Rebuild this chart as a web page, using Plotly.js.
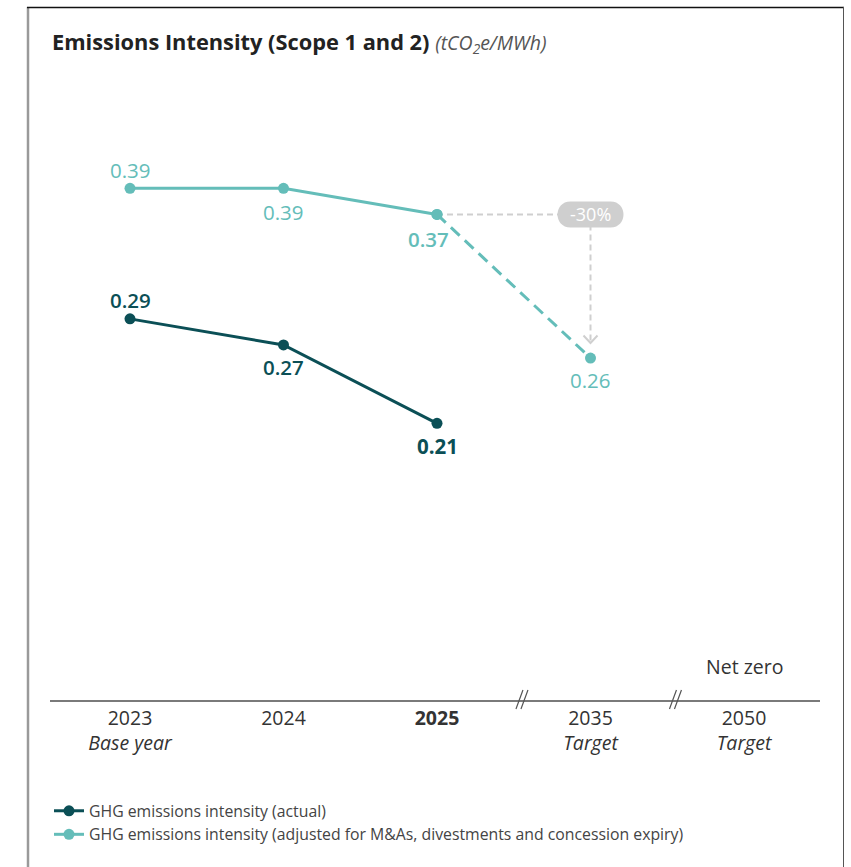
<!DOCTYPE html>
<html>
<head>
<meta charset="utf-8">
<script src="https://cdn.plot.ly/plotly-3.0.1.min.js"></script>
<style>html,body{margin:0;padding:0;background:#fff;}#chart{width:851px;height:867px;}</style>
</head>
<body>
<div id="chart"></div>
<script>
// ---- data ----
const years = ['2023', '2024', '2025', '2035', '2050'];
const yearNotes = ['Base year', '', '', 'Target', 'Target'];
const actualYears = ['2023', '2024', '2025'];
const actualValues = [0.29, 0.27, 0.21];
const adjustedYears = ['2023', '2024', '2025'];
const adjustedValues = [0.39, 0.39, 0.37];
const targetYears = ['2025', '2035'];
const targetValues = [0.37, 0.26];
const reductionLabel = '-30%';
const netZeroLabel = 'Net zero';
const actualName = 'GHG emissions intensity (actual)';
const adjustedName = 'GHG emissions intensity (adjusted for M&As, divestments and concession expiry)';

// ---- styles ----
const DARK = '#0b4f56';
const LIGHT = '#64bdb9';
const GREY = '#cfcfcf';
const FONT = 'Open Sans, Noto Sans, sans-serif';
const idx = y => years.indexOf(y);

// layout geometry
const L = 50, R = 31, T = 80, B = 167, W = 851, H = 867;
const PW = W - L - R, PH = H - T - B;
const X0 = 130, DX = 153.5; // px of first category, px spacing
const xRange = [(L - X0) / DX, (L + PW - X0) / DX];
const PXU = 1305.6; // px per unit
const yBottom = 0.39 - (700 - 188.3) / PXU;
const yRange = [yBottom, yBottom + PH / PXU];
const px2paperX = px => (px - L) / PW;
const py2paperY = py => (T + PH - py) / PH;
const pxToUnits = p => p / PXU;

const traces = [
  // grey guide line
  {x: [idx(targetYears[0]), idx(targetYears[1])], y: [targetValues[0], targetValues[0]],
   mode: 'lines', line: {color: GREY, width: 2, dash: '6px,4px'}, showlegend: false, hoverinfo: 'skip'},
  // dashed target path
  {x: targetYears.map(idx), y: targetValues, mode: 'lines+markers',
   line: {color: LIGHT, width: 3, dash: '12px,7px'}, marker: {color: LIGHT, size: 11},
   showlegend: false, hoverinfo: 'skip'},
  {x: actualYears.map(idx), y: actualValues, mode: 'lines+markers', name: actualName,
   line: {color: DARK, width: 3}, marker: {color: DARK, size: 11}},
  {x: adjustedYears.map(idx), y: adjustedValues, mode: 'lines+markers', name: adjustedName,
   line: {color: LIGHT, width: 3}, marker: {color: LIGHT, size: 11}}
];

// data labels
const annotations = [];
function addLabel(year, v, color, dx, dy, weight) {
  annotations.push({x: idx(year), y: v, xref: 'x', yref: 'y', text: v.toFixed(2), showarrow: false,
    xshift: dx, yshift: dy, font: {family: FONT, size: 20.5, color: color, weight: weight}});
}
addLabel(adjustedYears[0], adjustedValues[0], LIGHT, 0, 18, 400);
addLabel(adjustedYears[1], adjustedValues[1], LIGHT, 0, -24, 400);
addLabel(adjustedYears[2], adjustedValues[2], LIGHT, -9, -25, 600);
addLabel(targetYears[1], targetValues[1], LIGHT, 0, -22, 400);
addLabel(actualYears[0], actualValues[0], DARK, 0, 19, 600);
addLabel(actualYears[1], actualValues[1], DARK, 0, -22, 600);
addLabel(actualYears[2], actualValues[2], DARK, 0, -23, 700);

annotations.push({x: idx(targetYears[1]), y: targetValues[0], xref: 'x', yref: 'y', text: reductionLabel,
  showarrow: false, font: {family: FONT, size: 18, color: '#ffffff'}});
annotations.push({x: idx('2050'), y: 0, xref: 'x', yref: 'paper', yanchor: 'bottom', yshift: 18,
  text: netZeroLabel, showarrow: false, font: {family: FONT, size: 19.5, color: '#333333'}});

const tickText = years.map((y, i) => {
  const main = y === '2025' ? '<b>' + y + '</b>' : y;
  return yearNotes[i] ? main + '<br><i>' + yearNotes[i] + '</i>' : main;
});

const shapes = [
  // frame
  {type: 'line', xref: 'paper', yref: 'paper', x0: px2paperX(28), x1: px2paperX(28), y0: py2paperY(7), y1: py2paperY(870), line: {color: '#9a9a9a', width: 2.5}},
  {type: 'line', xref: 'paper', yref: 'paper', x0: px2paperX(27), x1: px2paperX(844), y0: py2paperY(7.5), y1: py2paperY(7.5), line: {color: '#111111', width: 1.5}},
  {type: 'line', xref: 'paper', yref: 'paper', x0: px2paperX(843.5), x1: px2paperX(843.5), y0: py2paperY(7), y1: py2paperY(870), line: {color: '#555555', width: 1}},
  // vertical grey dashed guide
  {type: 'line', xref: 'x', yref: 'y', x0: idx(targetYears[1]), x1: idx(targetYears[1]),
   y0: targetValues[0], y1: targetValues[1] + pxToUnits(16), line: {color: GREY, width: 2, dash: '6px,4px'}},
  // chevron
  {type: 'path', xref: 'x', yref: 'y', xsizemode: 'pixel', ysizemode: 'pixel',
   xanchor: idx(targetYears[1]), yanchor: targetValues[1], path: 'M-7,22.5 L0,15 L7,22.5',
   line: {color: GREY, width: 2}},
  // pill
  {type: 'path', xref: 'x', yref: 'y', xsizemode: 'pixel', ysizemode: 'pixel',
   xanchor: idx(targetYears[1]), yanchor: targetValues[0],
   path: 'M-20,-13 L20,-13 C37.3,-13 37.3,13 20,13 L-20,13 C-37.3,13 -37.3,-13 -20,-13 Z',
   fillcolor: GREY, line: {width: 0}},
  // axis breaks
  ...[2.56, 3.56].map(xb => ({type: 'path', xref: 'x', yref: 'paper', xsizemode: 'pixel', ysizemode: 'pixel',
   xanchor: xb, yanchor: 0, path: 'M-7,-9 L0,10 M-2,-9 L5,10', line: {color: '#555555', width: 1.2}}))
];

const layout = {
  width: W, height: H,
  margin: {l: L, r: R, t: T, b: B},
  paper_bgcolor: '#ffffff', plot_bgcolor: '#ffffff',
  font: {family: FONT, color: '#333333'},
  title: {
    text: '<b>Emissions Intensity (Scope 1 and 2)</b> <span style="font-size:19.5px;color:#555"><i>(tCO<sub>2</sub>e/MWh)</i></span>',
    x: 52 / W, xanchor: 'left', xref: 'container',
    y: 1 - 42 / H, yanchor: 'middle', yref: 'container',
    font: {family: FONT, size: 21.8, color: '#222222'}
  },
  xaxis: {range: xRange, tickvals: years.map((y, i) => i), ticktext: tickText,
    showgrid: false, zeroline: false, showline: true, linecolor: '#7a7a7a', linewidth: 1.5,
    ticks: '', ticklabelstandoff: 0, tickfont: {family: FONT, size: 19.5, color: '#333333'}, fixedrange: true},
  yaxis: {range: yRange, visible: false, showgrid: false, zeroline: false, fixedrange: true},
  showlegend: true,
  legend: {x: px2paperX(49), xanchor: 'left', y: py2paperY(794), yanchor: 'top',
    font: {family: FONT, size: 15.8, color: '#444444'}, bgcolor: 'rgba(0,0,0,0)', itemwidth: 30},
  annotations: annotations,
  shapes: shapes
};

Plotly.newPlot('chart', traces, layout, {displayModeBar: false, staticPlot: true});
</script>
</body>
</html>
